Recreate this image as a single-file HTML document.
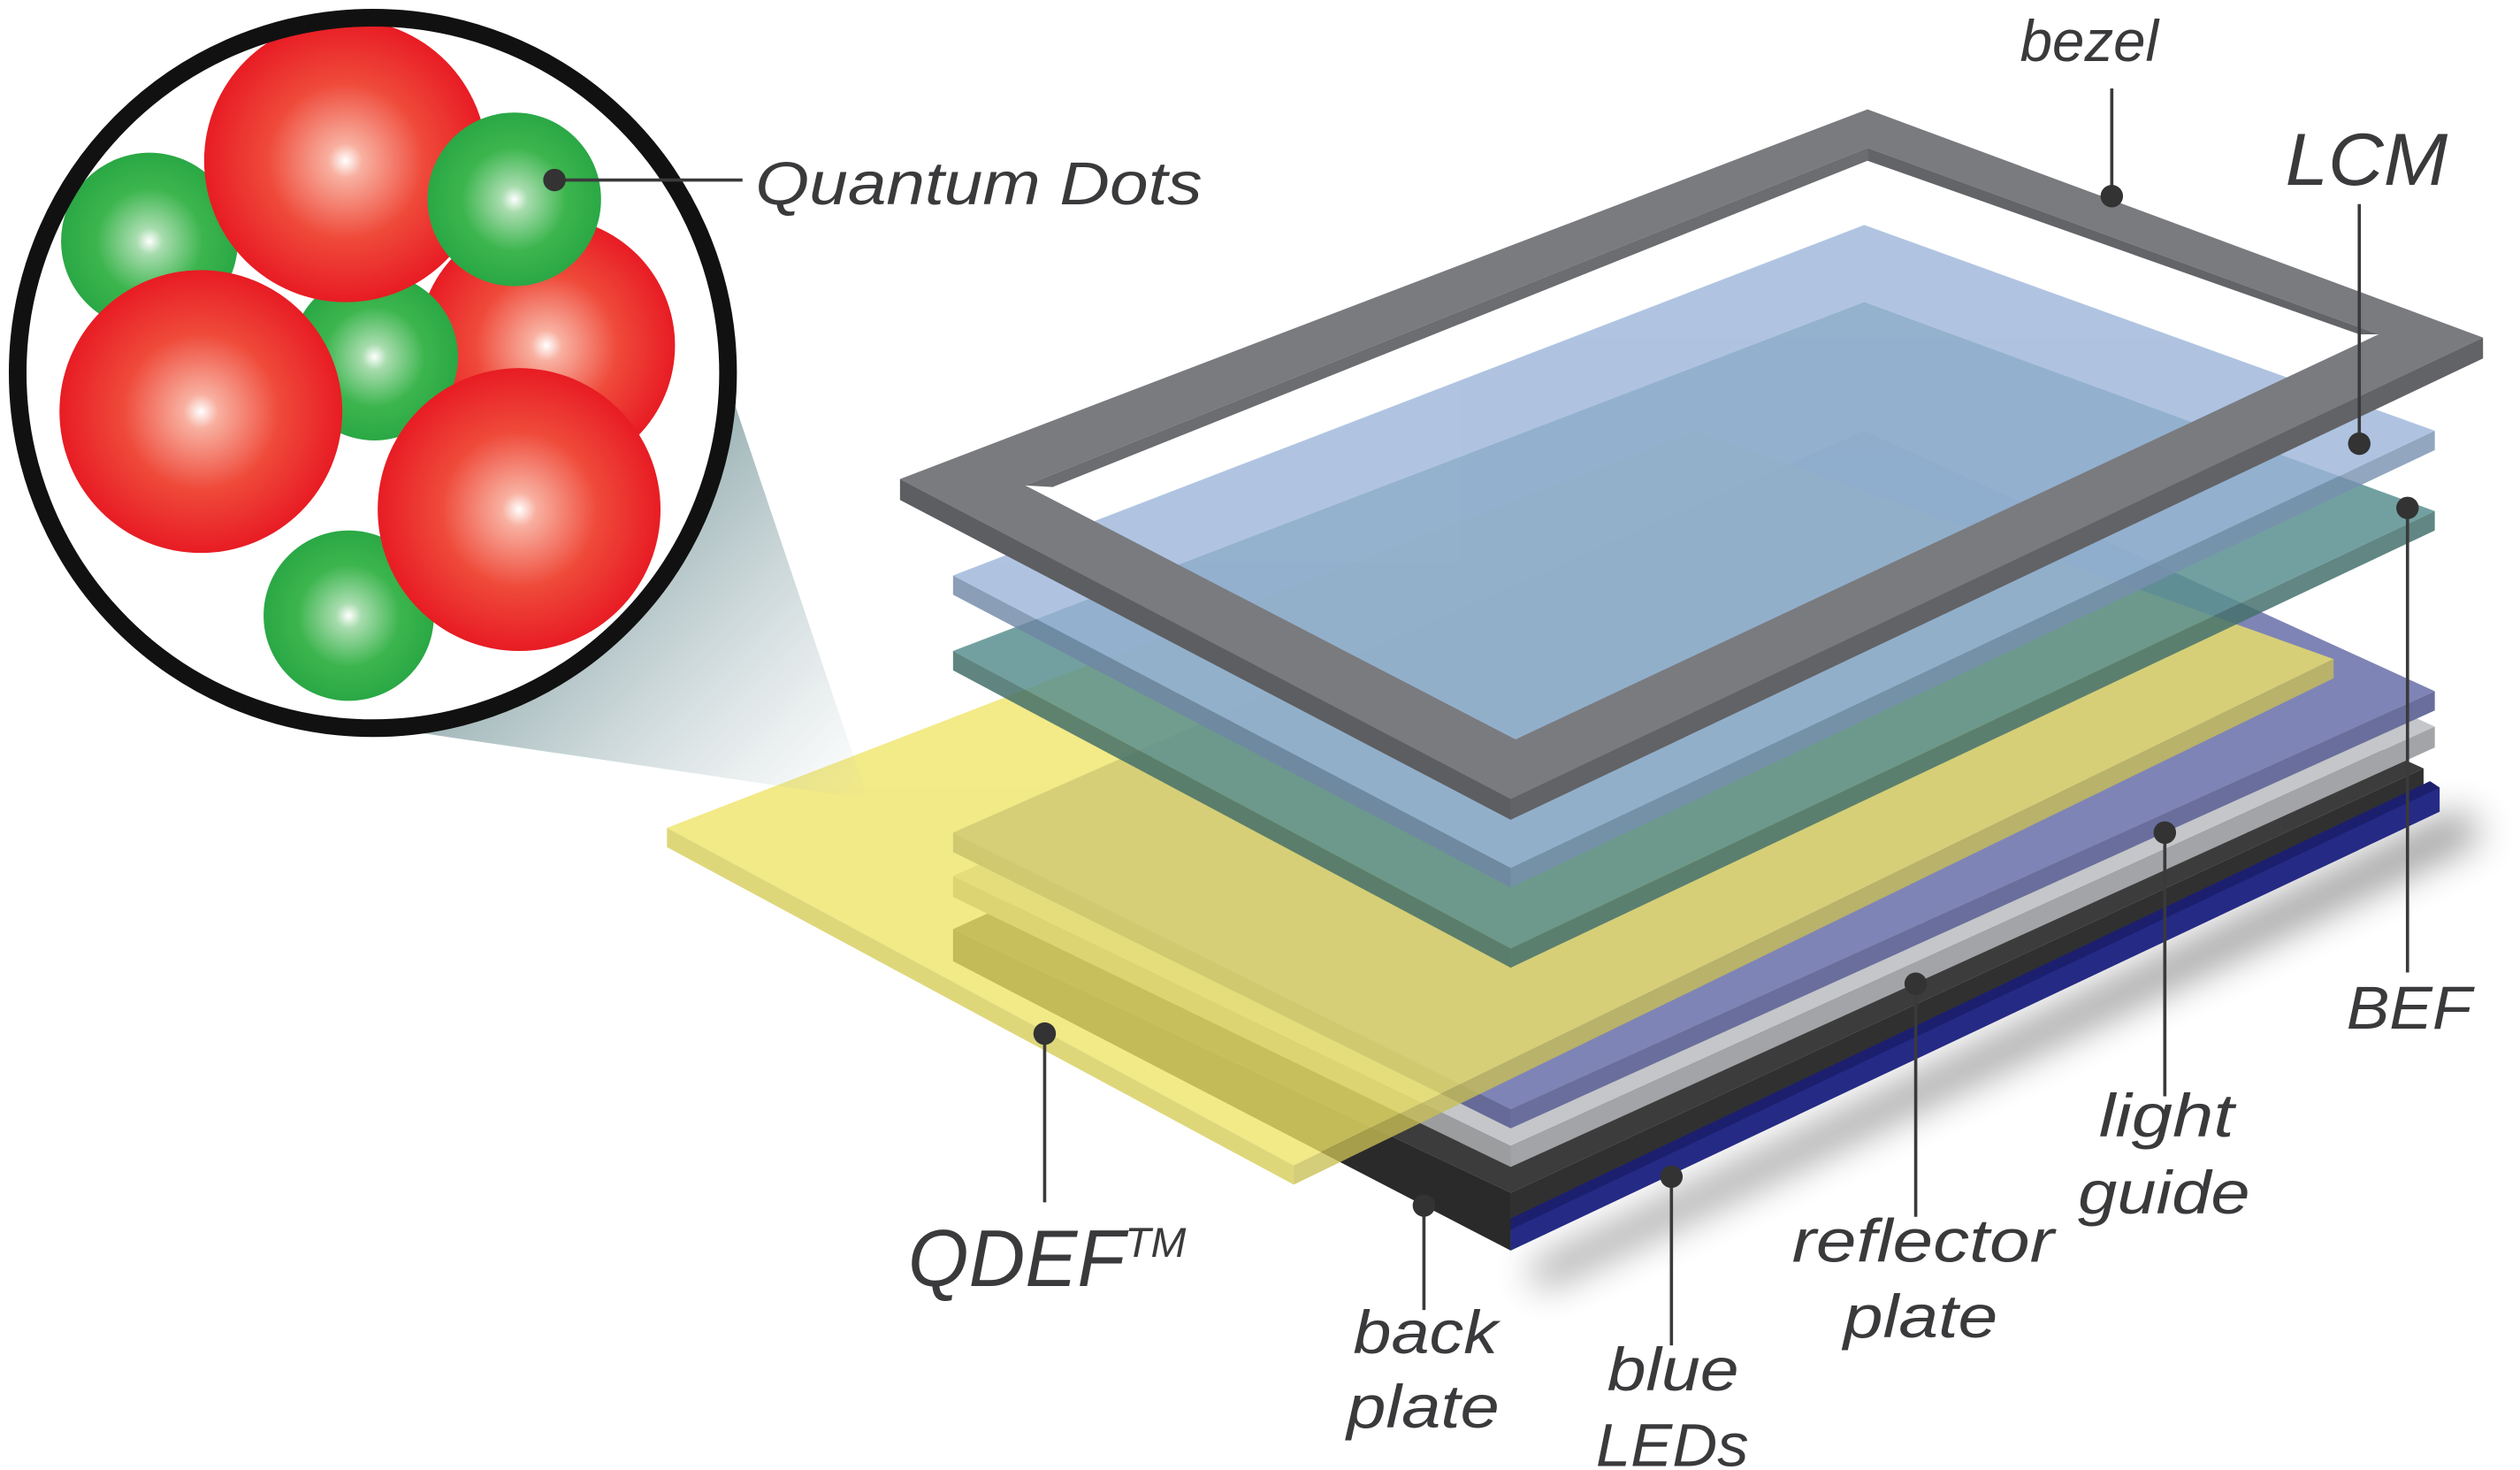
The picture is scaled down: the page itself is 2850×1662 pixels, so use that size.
<!DOCTYPE html>
<html><head><meta charset="utf-8"><style>html,body{margin:0;padding:0;background:#fff}svg{display:block}text{font-family:"Liberation Sans",sans-serif;font-style:italic;fill:#3a3a3c}</style></head><body>
<svg width="2850" height="1662" viewBox="0 0 1568 914.5" preserveAspectRatio="none" xmlns="http://www.w3.org/2000/svg">
<defs>
<radialGradient id="rg" cx="0.5" cy="0.5" r="0.5"><stop offset="0" stop-color="#fff"/><stop offset="0.12" stop-color="#f8b0a0"/><stop offset="0.55" stop-color="#ef4a3a"/><stop offset="1" stop-color="#e81c24"/></radialGradient>
<radialGradient id="gg" cx="0.5" cy="0.5" r="0.5"><stop offset="0" stop-color="#fff"/><stop offset="0.15" stop-color="#a8dcae"/><stop offset="0.6" stop-color="#3cb54e"/><stop offset="1" stop-color="#2aa845"/></radialGradient>
<linearGradient id="cone" x1="0.2" y1="0.3" x2="1" y2="1"><stop offset="0" stop-color="#6f9094" stop-opacity="0.9"/><stop offset="1" stop-color="#a8bcc0" stop-opacity="0"/></linearGradient>
<filter id="blur"><feGaussianBlur stdDeviation="12"/></filter>
<clipPath id="cc"><circle cx="232" cy="232" r="216"/></clipPath>
</defs>
<polygon points="950,790 1530,505 1545,520 960,800" fill="#000" opacity="0.45" filter="url(#blur)"/>
<polygon points="593,578 1160,320 1508,478 940,742" fill="#3c3c3c"/>
<polygon points="593,578 940,742 940,778 593,598" fill="#2a2a2a"/>
<polygon points="940,742 1508,478 1508,495 940,760" fill="#303030"/>
<polygon points="940,758 1512,486 1518,490 1518,505 940,778" fill="#252a85"/>
<polygon points="940,758 1512,486 1518,490 940,765" fill="#1c1f6e"/>
<polygon points="593,545 1160,290 1515,452 940,713" fill="#c4c6c9"/>
<polygon points="593,545 940,713 940,726 593,558" fill="#9c9d9f"/>
<polygon points="940,713 1515,452 1515,465 940,726" fill="#a3a4a7"/>
<polygon points="593,518 1160,268 1515,430 940,690" fill="#7f84b6"/>
<polygon points="593,518 940,690 940,702 593,530" fill="#666a98"/>
<polygon points="940,690 1515,430 1515,442 940,702" fill="#6a6e9c"/>
<g opacity="0.78">
<polygon points="415,515 1055,268 1452,410 805,725" fill="#efe466"/>
<polygon points="415,515 805,725 805,737 415,527" fill="#d6cc55"/>
<polygon points="805,725 1452,410 1452,422 805,737" fill="#c9bf55"/>
</g>
<g opacity="0.85">
<polygon points="593,405 1160,188 1515,318 940,590" fill="#5a9090"/>
<polygon points="593,405 940,590 940,602 593,417" fill="#45706a"/>
<polygon points="940,590 1515,318 1515,330 940,602" fill="#46726e"/>
</g>
<g opacity="0.8">
<polygon points="593,358 1160,140 1515,268 940,540" fill="#9cb5da"/>
<polygon points="593,358 940,540 940,552 593,370" fill="#6f86a6"/>
<polygon points="940,540 1515,268 1515,280 940,552" fill="#7890b0"/>
</g>
<path d="M560,298 L1162,68 L1545,210 L940,497 Z M638,302 L943,460 L1480,208 L1162,92 Z" fill="#7a7b7f" fill-rule="evenodd"/>
<polygon points="560,298 940,497 940,510 560,311" fill="#5d5e61"/>
<polygon points="940,497 1545,210 1545,223 940,510" fill="#626366"/>
<polygon points="1162,92 1480,208 1468,208 1162,100" fill="#636468"/>
<polygon points="638,302 1162,92 1162,100 655,303" fill="#6c6d70"/>
<polygon points="455,245 540,497 255,455" fill="url(#cone)"/>
<circle cx="232" cy="232" r="220" fill="#fff"/>
<g clip-path="url(#cc)">
<circle cx="93" cy="150" r="55" fill="url(#gg)"/>
<circle cx="340" cy="215" r="80" fill="url(#rg)"/>
<circle cx="233" cy="222" r="52" fill="url(#gg)"/>
<circle cx="215" cy="100" r="88" fill="url(#rg)"/>
<circle cx="320" cy="124" r="54" fill="url(#gg)"/>
<circle cx="125" cy="256" r="88" fill="url(#rg)"/>
<circle cx="217" cy="383" r="53" fill="url(#gg)"/>
<circle cx="323" cy="317" r="88" fill="url(#rg)"/>
</g>
<circle cx="232" cy="232" r="221" fill="none" stroke="#111" stroke-width="11"/>
<g stroke="#3a3a3c" stroke-width="2" fill="none">
<line x1="345" y1="112" x2="462" y2="112"/>
<line x1="1314" y1="55" x2="1314" y2="122"/>
<line x1="1468" y1="127" x2="1468" y2="276"/>
<line x1="1498" y1="316" x2="1498" y2="605"/>
<line x1="1347" y1="518" x2="1347" y2="682"/>
<line x1="1192" y1="612" x2="1192" y2="757"/>
<line x1="1040" y1="732" x2="1040" y2="837"/>
<line x1="886" y1="750" x2="886" y2="815"/>
<line x1="650" y1="643" x2="650" y2="748"/>
</g>
<g fill="#333">
<circle cx="345" cy="112" r="7"/><circle cx="1314" cy="122" r="7"/><circle cx="1468" cy="276" r="7"/><circle cx="1498" cy="316" r="7"/><circle cx="1347" cy="518" r="7"/><circle cx="1192" cy="612" r="7"/><circle cx="1040" cy="732" r="7"/><circle cx="886" cy="750" r="7"/><circle cx="650" cy="643" r="7"/>
</g>
<text x="470" y="127" font-size="38" textLength="278" lengthAdjust="spacingAndGlyphs">Quantum Dots</text>
<text x="1300" y="38" font-size="36" text-anchor="middle">bezel</text>
<text x="1422" y="115" font-size="46" textLength="101" lengthAdjust="spacingAndGlyphs">LCM</text>
<text x="1460" y="640" font-size="38" textLength="78" lengthAdjust="spacingAndGlyphs">BEF</text>
<text x="1306" y="707" font-size="38" textLength="84" lengthAdjust="spacingAndGlyphs">light</text>
<text x="1293" y="755" font-size="38" textLength="107" lengthAdjust="spacingAndGlyphs">guide</text>
<text x="1115" y="785" font-size="38" textLength="163" lengthAdjust="spacingAndGlyphs">reflector</text>
<text x="1147" y="832" font-size="38" textLength="96" lengthAdjust="spacingAndGlyphs">plate</text>
<text x="1000" y="865" font-size="38" textLength="82" lengthAdjust="spacingAndGlyphs">blue</text>
<text x="993" y="912" font-size="38" textLength="95" lengthAdjust="spacingAndGlyphs">LEDs</text>
<text x="842" y="842" font-size="38" textLength="90" lengthAdjust="spacingAndGlyphs">back</text>
<text x="838" y="888" font-size="38" textLength="95" lengthAdjust="spacingAndGlyphs">plate</text>
<text x="565" y="800" font-size="50" textLength="135" lengthAdjust="spacingAndGlyphs">QDEF</text>
<text x="700" y="782" font-size="26" textLength="38" lengthAdjust="spacingAndGlyphs">TM</text>
</svg>
</body></html>
